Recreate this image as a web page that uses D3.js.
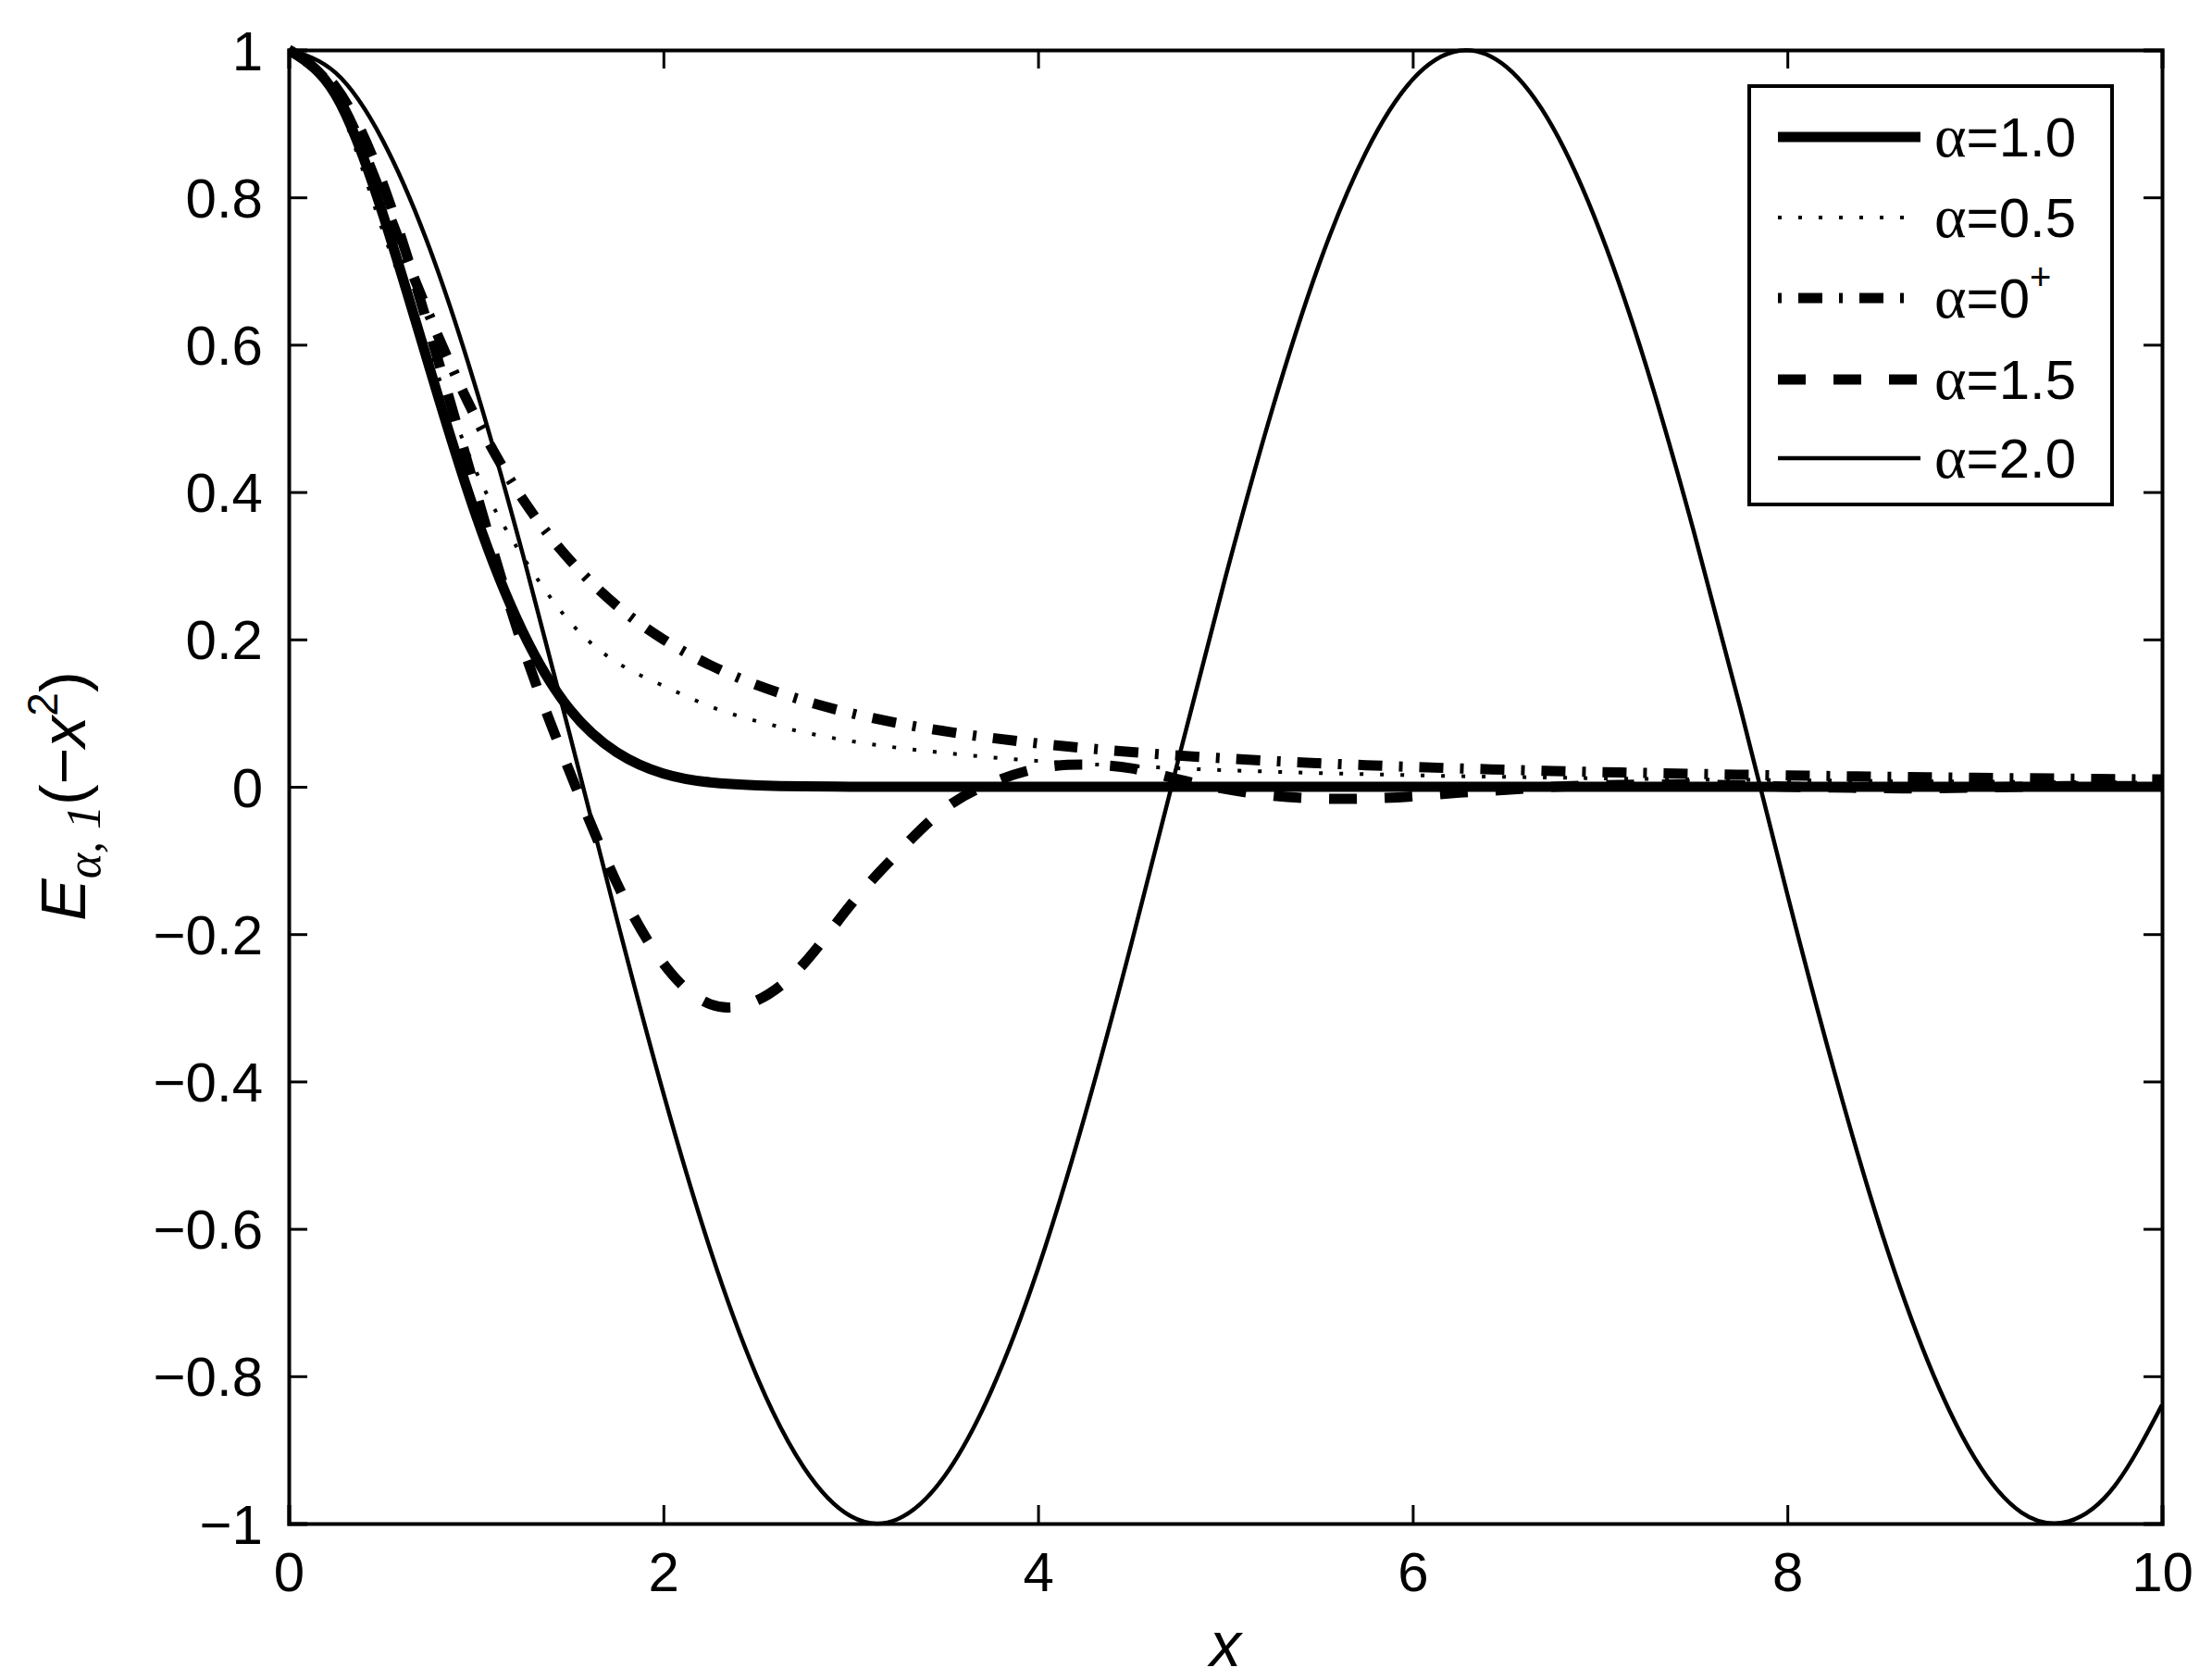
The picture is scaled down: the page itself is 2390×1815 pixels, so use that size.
<!DOCTYPE html>
<html><head><meta charset="utf-8">
<script src="https://cdn.jsdelivr.net/npm/d3@7"></script>
<style>body{margin:0;background:#fff}text{font-family:"Liberation Sans",Arial,sans-serif}</style>
</head><body>
<svg id="c" width="2390" height="1815"></svg>
<script>
// x samples (step 0.25)
var xs = d3.range(0, 10.0001, 0.25);
// values
var a10 = [1,.939,.779,.570,.368,.210,.105,.047,.018,.006,.002,.0005,.0001,0,0,0,0,0,0,0,0,0,0,0,0,0,0,0,0,0,0,0,0,0,0,0,0,0,0,0,0];
var a05 = [1,.934,.756,.589,.428,.312,.224,.169,.137,.109,.089,.074,.062,.053,.046,.040,.035,.031,.028,.025,.0225,.0205,.0186,.0171,.0157,.0144,.0134,.0124,.0115,.0107,.0100,.0094,.0088,.0083,.0078,.0074,.0070,.0066,.0063,.0059,.0056];
var a0p = [1,.941,.8,.64,.5,.39,.308,.246,.2,.165,.138,.117,.1,.0865,.0755,.0664,.0588,.0525,.0471,.0424,.0385,.035,.032,.0293,.027,.0249,.0231,.0214,.02,.0187,.0175,.0164,.0154,.0145,.0137,.0129,.0122,.0116,.011,.0104,.0099];
var a15 = [1,.95,.82,.62,.40,.19,.02,-.13,-.24,-.295,-.29,-.24,-.16,-.09,-.03,.005,.025,.03,.025,.01,-.003,-.012,-.016,-.016,-.013,-.008,-.004,0,.002,.003,.003,.002,0,-.001,-.002,-.002,-.001,0,.001,.001,.001];
var a20 = [1,.969,.878,.732,.540,.315,.071,-.178,-.416,-.628,-.801,-.924,-.990,-.994,-.936,-.820,-.654,-.446,-.211,.038,.284,.512,.709,.861,.960,.999,.977,.894,.754,.568,.347,.106,-.146,-.386,-.602,-.780,-.911,-.985,-.997,-.948,-.839];
var xTicks = [0,2,4,6,8,10];
var yTicks = [-1,-0.8,-0.6,-0.4,-0.2,0,0.2,0.4,0.6,0.8,1];

var series = [
  {name:"α=1.0", sup:"", y:a10, w:11, dash:null},
  {name:"α=0.5", sup:"", y:a05, w:4, dash:"4,18"},
  {name:"α=0", sup:"+", y:a0p, w:11, dash:"4,18,26,18"},
  {name:"α=1.5", sup:"", y:a15, w:11, dash:"30,30"},
  {name:"α=2.0", sup:"", y:a20, w:4.5, dash:null}
];

var L=312, R=2336, T=54, B=1646;
var svg = d3.select("#c");
var x = d3.scaleLinear().domain([0,10]).range([L,R]);
var y = d3.scaleLinear().domain([-1,1]).range([B,T]);

var line = d3.line().curve(d3.curveNatural)
  .x(function(d){return x(d[0]);}).y(function(d){return y(d[1]);});
svg.append("clipPath").attr("id","cp").append("rect")
  .attr("x",L).attr("y",T-10).attr("width",R-L).attr("height",B-T+20);
series.forEach(function(s){
  svg.append("path").attr("clip-path","url(#cp)")
    .datum(xs.map(function(v,i){return [v,s.y[i]];}))
    .attr("d",line).attr("fill","none").attr("stroke","#000")
    .attr("stroke-width",s.w).attr("stroke-dasharray",s.dash);
});

function fmt(v){ var s = d3.format("")(+v.toFixed(1)); return s.replace("-","\u2212"); }
var gx = svg.append("g").attr("transform","translate(0,"+B+")")
  .call(d3.axisBottom(x).tickValues(xTicks).tickSize(-20).tickPadding(30).tickFormat(fmt));
var gx2 = svg.append("g").attr("transform","translate(0,"+T+")")
  .call(d3.axisTop(x).tickValues(xTicks).tickSize(-20).tickFormat(""));
var gy = svg.append("g").attr("transform","translate("+L+",0)")
  .call(d3.axisLeft(y).tickValues(yTicks).tickSize(-20).tickPadding(28).tickFormat(fmt));
var gy2 = svg.append("g").attr("transform","translate("+R+",0)")
  .call(d3.axisRight(y).tickValues(yTicks).tickSize(-20).tickFormat(""));
[gx,gx2,gy,gy2].forEach(function(g){
  g.selectAll("path").attr("stroke","#000").attr("stroke-width",4);
  g.selectAll("line").attr("stroke","#000").attr("stroke-width",3);
  g.selectAll("text").attr("font-size",60).attr("fill","#000")
   .attr("font-family","Liberation Sans, Arial, sans-serif");
});
gy.selectAll("text").attr("dy","0.35em");

// axis labels
svg.append("text").attr("x",(L+R)/2).attr("y",1800).attr("text-anchor","middle")
  .attr("font-size",68).attr("font-style","italic").text("x");
var yl = svg.append("text").attr("transform","translate(92,"+((T+B)/2+10)+") rotate(-90)")
  .attr("text-anchor","middle").attr("font-size",68);
yl.append("tspan").attr("font-style","italic").text("E");
yl.append("tspan").attr("font-family","Liberation Serif, serif").attr("font-style","italic").attr("font-size",52).attr("dy",16).text("α, 1");
yl.append("tspan").attr("dy",-16).text("(\u2212");
yl.append("tspan").attr("font-style","italic").text("x");
yl.append("tspan").attr("font-size",46).attr("dy",-30).text("2");
yl.append("tspan").attr("dy",30).text(")");

// legend
var lg = svg.append("g");
lg.append("rect").attr("x",1890).attr("y",93).attr("width",392).attr("height",452)
  .attr("fill","#fff").attr("stroke","#000").attr("stroke-width",4);
var rowY = [148,235,322,410,495];
series.forEach(function(s,i){
  lg.append("line").attr("x1",1921).attr("x2",2075).attr("y1",rowY[i]).attr("y2",rowY[i])
    .attr("stroke","#000").attr("stroke-width",s.w).attr("stroke-dasharray",s.dash);
  var t = lg.append("text").attr("x",2090).attr("y",rowY[i]+21).attr("font-size",60);
  t.append("tspan").attr("font-family","Liberation Serif, serif").attr("font-size",66).text("α");
  t.append("tspan").text(s.name.slice(1));
  if(s.sup) t.append("tspan").attr("font-size",40).attr("dy",-30).text(s.sup);
});
</script>
</body></html>
